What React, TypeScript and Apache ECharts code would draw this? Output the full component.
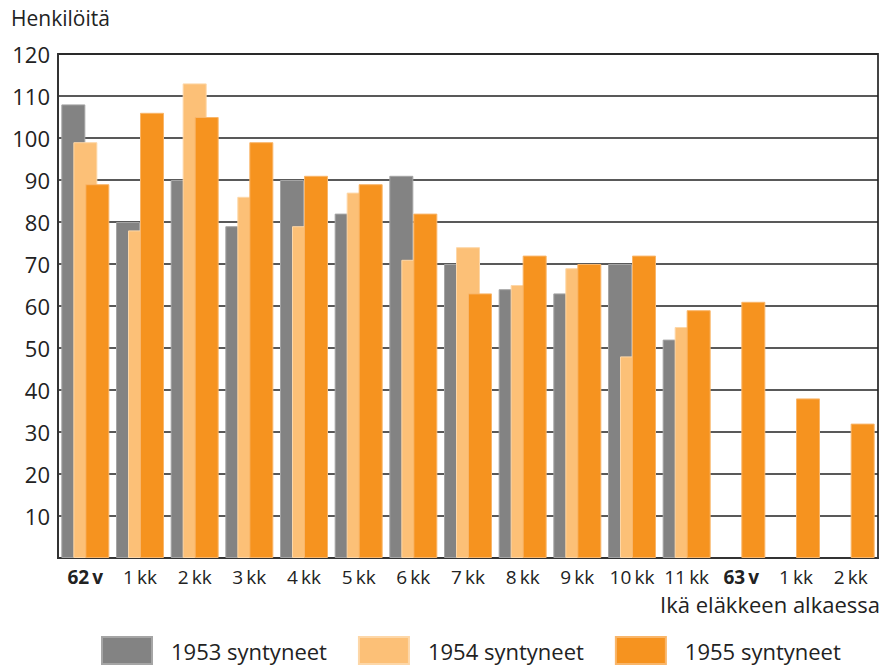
import React, { useEffect, useRef } from "react";
import * as echarts from "echarts";

const categories = ["62\u2009v", "1\u2009kk", "2\u2009kk", "3\u2009kk", "4\u2009kk", "5\u2009kk", "6\u2009kk", "7\u2009kk", "8\u2009kk", "9\u2009kk", "10\u2009kk", "11\u2009kk", "63\u2009v", "1\u2009kk", "2\u2009kk"];
const boldLabels = ["62\u2009v", "63\u2009v"];
const s1953 = [108, 80, 90, 79, 90, 82, 91, 70, 64, 63, 70, 52, null, null, null];
const s1954 = [99, 78, 113, 86, 79, 87, 71, 74, 65, 69, 48, 55, null, null, null];
const s1955 = [89, 106, 105, 99, 91, 89, 82, 63, 72, 70, 72, 59, 61, 38, 32];
const seriesNames = ["1953 syntyneet", "1954 syntyneet", "1955 syntyneet"];
const colors = ["#838383", "#FCC077", "#F6931F"];
const yTicks = { min: 0, max: 120, interval: 10 };

const FONT = "Open Sans";

export default function App() {
  const ref = useRef<HTMLDivElement>(null);
  useEffect(() => {
    if (!ref.current) return;
    const chart = echarts.init(ref.current, undefined, { renderer: "svg" });
    const mk = (name: string, data: (number | null)[], color: string, border: string) => ({
      name,
      type: "bar",
      data,
      barWidth: 24,
      barGap: "-50%",
      itemStyle: { color, borderColor: border, borderWidth: 1 },
    });
    chart.setOption({
      animation: false,
      textStyle: { fontFamily: FONT },
      title: {
        text: "Henkilöitä",
        left: 6,
        top: 2,
        textStyle: { fontFamily: FONT, fontSize: 21, fontWeight: "normal", color: "#222" },
      },
      grid: {
        left: 58,
        right: 10,
        top: 54,
        bottom: 110,
        show: true,
        borderColor: "#444",
        borderWidth: 2,
        backgroundColor: "transparent",
      },
      legend: {
        top: 631,
        left: 96,
        itemWidth: 50,
        itemHeight: 27,
        itemGap: 31,
        icon: "rect",
        data: seriesNames,
        textStyle: { fontFamily: FONT, fontSize: 22, color: "#222", padding: [0, 0, 0, 14] },
      },
      xAxis: {
        type: "category",
        data: categories,
        axisTick: { show: false },
        axisLine: { lineStyle: { color: "#333", width: 2 } },
        axisLabel: {
          interval: 0,
          margin: 9,
          formatter: (v: string) => (boldLabels.includes(v) ? `{b|${v}}` : `{n|${v}}`),
          rich: {
            b: { fontFamily: FONT, fontSize: 19, fontWeight: "bold", color: "#222" },
            n: { fontFamily: FONT, fontSize: 19, color: "#222" },
          },
        },
      },
      yAxis: {
        type: "value",
        min: yTicks.min,
        max: yTicks.max,
        interval: yTicks.interval,
        axisLine: { show: true, lineStyle: { color: "#333", width: 2 } },
        axisTick: { show: false },
        splitLine: { lineStyle: { color: "#222", width: 1.5 } },
        axisLabel: {
          fontFamily: FONT,
          fontSize: 22,
          color: "#222",
          margin: 8,
          formatter: (v: number) => (v === 0 ? "" : String(v)),
        },
      },
      graphic: [
        {
          type: "text",
          right: 8,
          top: 593,
          style: { text: "Ikä eläkkeen alkaessa", font: `22px "${FONT}"`, fill: "#222" },
        },
      ],
      series: [
        mk(seriesNames[0], s1953, colors[0], "#a5a5a5"),
        mk(seriesNames[1], s1954, colors[1], "#fdd7a8"),
        mk(seriesNames[2], s1955, colors[2], "#f9b66a"),
      ],
    });
    return () => chart.dispose();
  }, []);
  return <div ref={ref} style={{ width: 888, height: 668, position: "absolute", left: 0, top: 0 }} />;
}
